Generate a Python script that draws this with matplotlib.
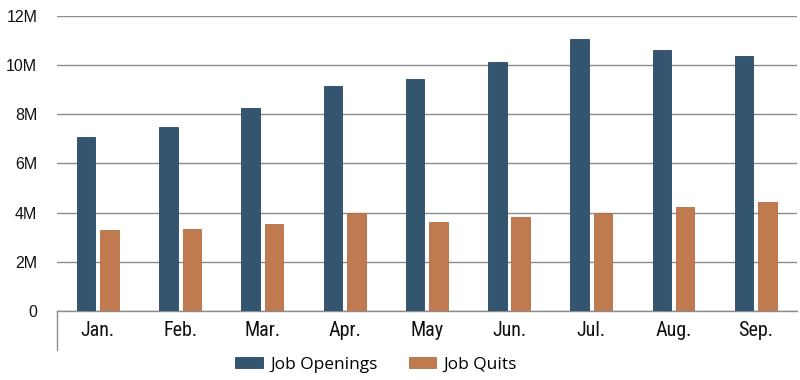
import matplotlib
matplotlib.use("Agg")
import matplotlib.pyplot as plt
from matplotlib import font_manager
import numpy as np

months = ["Jan.", "Feb.", "Mar.", "Apr.", "May", "Jun.", "Jul.", "Aug.", "Sep."]
openings = [7.07, 7.49, 8.25, 9.15, 9.43, 10.13, 11.06, 10.60, 10.39]  # millions
quits = [3.28, 3.35, 3.52, 3.97, 3.61, 3.83, 4.00, 4.24, 4.42]  # millions
y_ticks = [0, 2, 4, 6, 8, 10, 12]
y_labels = ["0", "2M", "4M", "6M", "8M", "10M", "12M"]

names = {f.name for f in font_manager.fontManager.ttflist}
narrow = next((n for n in ["Liberation Sans Narrow", "Roboto Condensed", "Roboto"] if n in names), "DejaVu Sans")

c_open = "#34556f"
c_quit = "#c07a50"

fig = plt.figure(figsize=(8, 3.8), dpi=100)
ax = fig.add_axes([0.071, 0.1816, 0.925, 0.7764])
x = np.arange(len(months))
w = 0.225
off = 0.142
ax.bar(x - off, openings, w, color=c_open, edgecolor="#2c4860", linewidth=0.6, label="Job Openings", zorder=3)
ax.bar(x + off, quits, w, color=c_quit, edgecolor="#b86c40", linewidth=0.6, label="Job Quits", zorder=3)

ax.set_xlim(-0.5, len(months) - 0.5)
ax.set_ylim(0, 12)
ax.set_yticks(y_ticks)
ax.set_yticklabels(y_labels, fontsize=11.5, family="Liberation Sans", color="#111111")
ax.set_xticks(x)
ax.set_xticklabels(months, fontsize=14.5, family=narrow, color="#111111")
ax.tick_params(axis="both", length=0)
ax.tick_params(axis="y", pad=14)
ax.tick_params(axis="x", pad=7)
ax.yaxis.grid(True, color="#8c8c8c", linewidth=1.0, zorder=0)
for s in ["top", "right", "left"]:
    ax.spines[s].set_visible(False)
ax.spines["bottom"].set_color("#8c8c8c")
ax.spines["bottom"].set_linewidth(1.0)
ax.set_axisbelow(True)

# left vertical line extending below the axis
fig.add_artist(plt.Line2D([0.0715, 0.0715], [1 - 350 / 380, 1 - 311 / 380], color="#8c8c8c", linewidth=1.0))

leg = fig.legend(loc="center", bbox_to_anchor=(0.47, 0.04), ncol=2, frameon=False,
                 prop={"family": "Open Sans", "size": 12.5}, handlelength=1.6, handleheight=0.6,
                 columnspacing=1.8, handletextpad=0.4)
fig.savefig("out.png", dpi=100)
